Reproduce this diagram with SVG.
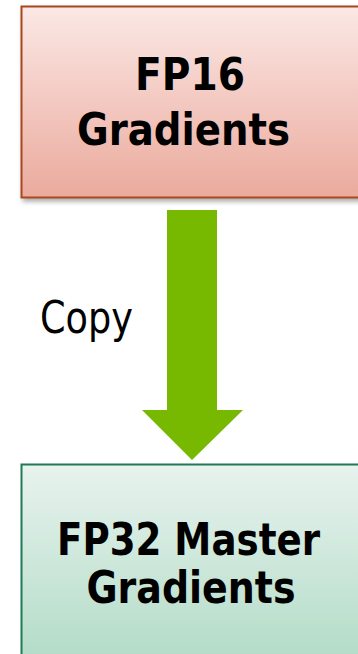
<svg xmlns="http://www.w3.org/2000/svg" width="358" height="654" viewBox="0 0 358 654">
  <defs>
    <linearGradient id="fillRed" x1="0" y1="0" x2="0" y2="1">
      <stop offset="0" stop-color="#fbe8e5"/>
      <stop offset="1" stop-color="#ebaa9d"/>
    </linearGradient>
    <linearGradient id="fillGreen" x1="0" y1="0" x2="0" y2="1">
      <stop offset="0" stop-color="#e8f3ee"/>
      <stop offset="1" stop-color="#acd9c3"/>
    </linearGradient>
    <filter id="shadow" x="-10%" y="-10%" width="130%" height="130%">
      <feGaussianBlur in="SourceAlpha" stdDeviation="2.5"/>
      <feOffset dx="2" dy="3" result="b"/>
      <feComponentTransfer><feFuncA type="linear" slope="0.35"/></feComponentTransfer>
      <feMerge><feMergeNode/><feMergeNode in="SourceGraphic"/></feMerge>
    </filter>
    <style>
      .bold { font-family: "DejaVu Sans Condensed", "DejaVu Sans", sans-serif; font-weight: bold; font-size: 44px; fill: #000; }
      .reg { font-family: "DejaVu Sans Condensed", "DejaVu Sans", sans-serif; font-size: 44px; fill: #000; }
    </style>
  </defs>
  <rect width="358" height="654" fill="#ffffff"/>

  <g id="fp16">
    <rect x="21.5" y="6.5" width="360" height="191" fill="url(#fillRed)" stroke="#a8461f" stroke-width="2" filter="url(#shadow)"/>
    <text class="bold" x="190" y="90" text-anchor="middle" textLength="110" lengthAdjust="spacingAndGlyphs">FP16</text>
    <text class="bold" x="183.5" y="145" text-anchor="middle" textLength="213" lengthAdjust="spacingAndGlyphs">Gradients</text>
  </g>

  <g id="connectors">
    <polygon points="167,210 217,210 217,410 243,410 192,460 142,410 167,410" fill="#76b900"/>
    <text class="reg" x="40" y="333" textLength="93" lengthAdjust="spacingAndGlyphs">Copy</text>
  </g>

  <g id="fp32">
    <rect x="21.5" y="464.5" width="360" height="220" fill="url(#fillGreen)" stroke="#1f7a55" stroke-width="2"/>
    <text class="bold" x="188.5" y="555" text-anchor="middle" textLength="263" lengthAdjust="spacingAndGlyphs">FP32 Master</text>
    <text class="bold" x="191" y="603" text-anchor="middle" textLength="209" lengthAdjust="spacingAndGlyphs">Gradients</text>
  </g>
</svg>
